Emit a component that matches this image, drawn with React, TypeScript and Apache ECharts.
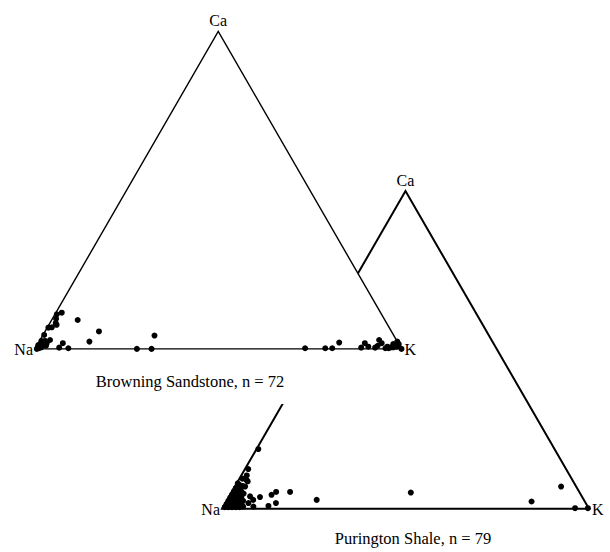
import React, { useEffect, useRef } from "react";
import * as echarts from "echarts";

// End-member labels of each ternary plot
const VERTEX_LABELS = { left: "Na", right: "K", top: "Ca" };

const browningTitle = "Browning Sandstone, n = 72";
const puringtonTitle = "Purington Shale, n = 79";

// Feldspar compositions, [Na, K, Ca] in mol %
const browningPoints: [number, number, number][] = [
  [99.5, 0.5, 0], [98.8, 0.5, 0.7], [97.3, 0.9, 1.8], [95.3, 0.3, 4.4],
  [95.9, 2.3, 1.8], [94.5, 2.7, 2.8], [90.3, 1.6, 8.1], [90.3, 2.1, 7.6],
  [88.6, 0.5, 10.9], [87.0, 1.6, 11.4], [83.8, 7.1, 9.1], [79.8, 14.7, 5.5],
  [84.0, 13.7, 2.3], [91.5, 6.7, 1.8], [93.2, 6.4, 0.4], [90.8, 9.0, 0.2],
  [72.2, 27.8, 0], [68.2, 31.8, 0], [65.3, 30.5, 4.2], [26.2, 73.6, 0.2],
  [20.7, 79.1, 0.2], [18.8, 81.0, 0.2], [16.0, 82.0, 2.0], [10.8, 88.8, 0.4],
  [9.1, 89.1, 1.8], [8.7, 90.6, 0.7], [7.0, 92.6, 0.4], [4.7, 92.5, 2.8],
  [4.5, 93.7, 1.8], [4.3, 95.5, 0.2], [3.4, 96.4, 0.2], [2.6, 96.9, 0.5],
  [0, 97.7, 2.3], [0, 98.5, 1.5], [0, 100, 0],
  [98.8, 1.0, 0.2], [98.0, 1.5, 0.5], [97.5, 1.5, 1.0], [96.5, 2.5, 1.0],
  [98.5, 0.3, 1.2], [97.0, 0.5, 2.5], [96.0, 1.5, 2.5], [93.0, 0.3, 6.7],
  [92.0, 1.2, 6.8], [89.5, 1.0, 9.5],
  [3.5, 95.8, 0.7], [2.0, 97.5, 0.5], [1.0, 98.3, 0.7], [1.5, 97.0, 1.5],
  [6.0, 93.0, 1.0],
];

const puringtonPoints: [number, number, number][] = [
  [80.7, 0.5, 18.8], [86.6, 0.9, 12.5], [88.7, 2.7, 8.6], [90.2, 2.8, 7.0],
  [82.6, 12.1, 5.3], [78.8, 15.9, 5.3], [84.3, 11.3, 4.4], [87.8, 8.5, 3.7],
  [90.4, 5.7, 3.9], [90.1, 7.1, 2.8], [84.4, 13.8, 1.8], [72.8, 24.4, 2.8],
  [86.9, 12.2, 0.9], [91.1, 8.2, 0.7], [91.9, 6.3, 1.8], [93.9, 5.4, 0.7],
  [46.0, 48.9, 5.1], [14.5, 83.2, 2.3], [4.1, 88.9, 7.0], [3.7, 96.1, 0.2],
  [0.2, 99.6, 0.2],
  [99.0, 0.5, 0.5], [98.0, 0.5, 1.5], [97.0, 0.5, 2.5], [96.0, 0.5, 3.5],
  [95.0, 0.5, 4.5], [94.0, 0.5, 5.5], [93.0, 0.5, 6.5], [98.0, 1.5, 0.5],
  [97.0, 1.5, 1.5], [96.0, 1.5, 2.5], [95.0, 1.5, 3.5], [94.0, 1.5, 4.5],
  [93.0, 1.5, 5.5], [92.0, 1.5, 6.5], [97.0, 2.5, 0.5], [96.0, 2.5, 1.5],
  [95.0, 2.5, 2.5], [94.0, 2.5, 3.5], [93.0, 2.5, 4.5], [92.0, 2.5, 5.5],
  [96.0, 3.5, 0.5], [95.0, 3.5, 1.5], [94.0, 3.5, 2.5], [93.0, 3.5, 3.5],
  [91.7, 3.5, 4.8], [95.0, 4.5, 0.5], [94.0, 4.5, 1.5], [93.0, 4.5, 2.5],
  [91.7, 0.3, 8.0], [91.5, 1.0, 7.5], [90.8, 2.0, 7.2], [89.7, 0.8, 9.5],
  [88.8, 2.2, 9.0], [88.0, 1.5, 10.5],
];

const H = Math.sqrt(3) / 2;
const FONT = '16px "Liberation Serif", "Times New Roman", serif';
const TITLE_FONT = '16.5px "Liberation Serif", "Times New Roman", serif';

// Barycentric [Na, K, Ca] -> cartesian: Na at (0,0), K at (1,0), Ca at (0.5, H)
function toXY([na, k, ca]: [number, number, number]): [number, number] {
  const s = na + k + ca;
  return [(k + ca / 2) / s, (ca / s) * H];
}

function label(text: string, x: number, y: number, align: string) {
  return {
    type: "text",
    style: {
      text, x, y, font: FONT, fill: "#000",
      align, textAlign: align, verticalAlign: "middle", textVerticalAlign: "middle",
    },
  };
}

function triangle(lineWidth: number, filled: boolean) {
  return (_params: any, api: any) => {
    const na = api.coord([0, 0]);
    const k = api.coord([1, 0]);
    const ca = api.coord([0.5, H]);
    const children: any[] = [];
    if (filled) {
      // opaque panel under the plot and its caption
      children.push({
        type: "rect",
        shape: { x: na[0] - 20, y: na[1], width: k[0] - na[0] + 40, height: 55 },
        style: { fill: "#fff" },
      });
    }
    children.push({
      type: "polygon",
      shape: { points: [na, k, ca] },
      style: { fill: filled ? "#fff" : "none", stroke: "#000", lineWidth, lineJoin: "miter" },
    });
    children.push(label(VERTEX_LABELS.top, ca[0], ca[1] - 11, "center"));
    children.push(label(VERTEX_LABELS.left, na[0] - 2, na[1] + 1, "right"));
    children.push(label(VERTEX_LABELS.right, k[0] + 3, k[1] + 1, "left"));
    return { type: "group", children };
  };
}

export default function App() {
  const ref = useRef<HTMLDivElement>(null);

  useEffect(() => {
    document.body.style.margin = "0";
    if (!ref.current) return;
    const chart = echarts.init(ref.current, undefined, { renderer: "svg" });

    const axisX = (gridIndex: number) => ({ type: "value", gridIndex, min: 0, max: 1, show: false });
    const axisY = (gridIndex: number) => ({ type: "value", gridIndex, min: 0, max: H, show: false });
    const dot = { color: "#000", opacity: 1 };

    chart.setOption({
      animation: false,
      backgroundColor: "#fff",
      grid: [
        { left: 35, top: 31.5, width: 366.5, height: 317.4 },
        { left: 222, top: 191, width: 367, height: 317.8 },
      ],
      xAxis: [axisX(0), axisX(1)],
      yAxis: [axisY(0), axisY(1)],
      series: [
        {
          type: "custom", xAxisIndex: 1, yAxisIndex: 1, z: 1, clip: false,
          data: [[0, 0]], renderItem: triangle(2, false), silent: true,
        },
        {
          type: "scatter", xAxisIndex: 1, yAxisIndex: 1, z: 2, clip: false,
          symbolSize: 6, itemStyle: dot,
          data: puringtonPoints.map(toXY),
        },
        {
          type: "custom", xAxisIndex: 0, yAxisIndex: 0, z: 3, clip: false,
          data: [[0, 0]], renderItem: triangle(1.4, true), silent: true,
        },
        {
          type: "scatter", xAxisIndex: 0, yAxisIndex: 0, z: 4, clip: false,
          symbolSize: 6, itemStyle: dot,
          data: browningPoints.map(toXY),
        },
      ],
      graphic: [
        {
          type: "text", z: 10, x: 190, y: 381,
          style: { text: browningTitle, font: TITLE_FONT, fill: "#000", align: "center", textAlign: "center", verticalAlign: "middle", textVerticalAlign: "middle" },
        },
        {
          type: "text", z: 10, x: 413, y: 538,
          style: { text: puringtonTitle, font: TITLE_FONT, fill: "#000", align: "center", textAlign: "center", verticalAlign: "middle", textVerticalAlign: "middle" },
        },
      ],
    });

    return () => chart.dispose();
  }, []);

  return <div ref={ref} style={{ width: 610, height: 552 }} />;
}
